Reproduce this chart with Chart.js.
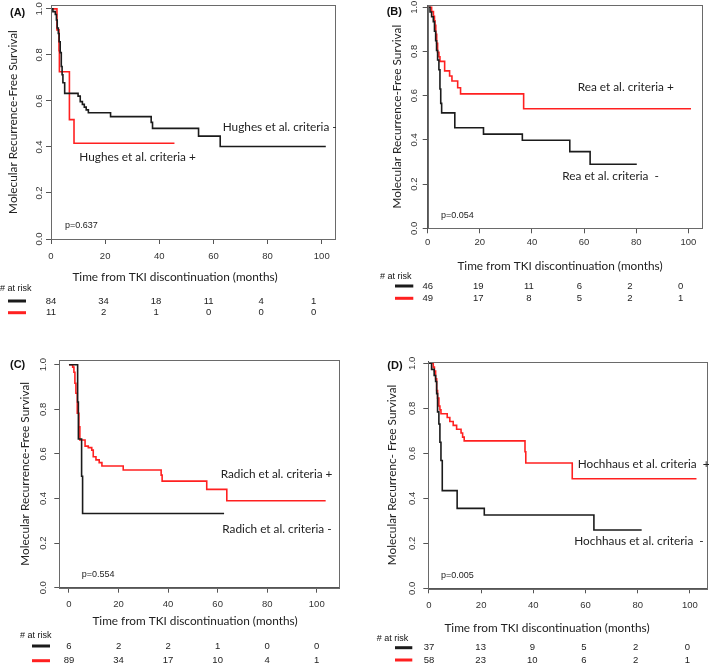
<!DOCTYPE html>
<html>
<head>
<meta charset="utf-8">
<script src="https://cdn.jsdelivr.net/npm/chart.js@4.4.1/dist/chart.umd.min.js"></script>
<style>
  html, body { margin: 0; padding: 0; background: #fff; }
  #wrap { position: relative; width: 709px; height: 664px; overflow: hidden; }
  canvas { position: absolute; }
</style>
</head>
<body>
<div id="wrap">
  <canvas id="cA" width="354" height="330" style="left:0;top:0"></canvas>
  <canvas id="cB" width="354" height="330" style="left:355px;top:0"></canvas>
  <canvas id="cC" width="354" height="334" style="left:0;top:330px"></canvas>
  <canvas id="cD" width="354" height="334" style="left:355px;top:330px"></canvas>
</div>
<script>
// tick labels
const monthTicks = [0, 20, 40, 60, 80, 100];
const survTicks = [0, 0.2, 0.4, 0.6, 0.8, 1.0];

// (A) Hughes et al. criteria
const hughesNegT = [0, 0.7, 1.6, 2.0, 2.3, 2.7, 3.0, 3.4, 3.8, 4.1, 4.4, 5.05, 10.0, 10.8, 11.6, 12.3, 13.0, 13.8, 22.0, 37.0, 37.5, 54.5, 62.5, 101.5];
const hughesNegS = [1, 0.988, 0.976, 0.952, 0.917, 0.893, 0.857, 0.810, 0.750, 0.714, 0.679, 0.633, 0.621, 0.597, 0.585, 0.573, 0.561, 0.549, 0.532, 0.507, 0.481, 0.447, 0.402, 0.402];
const hughesPosT = [0, 2.2, 2.95, 3.1, 6.8, 8.5, 45.6];
const hughesPosS = [1, 0.909, 0.818, 0.727, 0.519, 0.416, 0.416];
const hughesRiskNeg = [84, 34, 18, 11, 4, 1];
const hughesRiskPos = [11, 2, 1, 0, 0, 0];

// (B) Rea et al. criteria
const reaNegT = [0, 0.9, 1.5, 2.15, 2.6, 3.05, 3.4, 3.8, 4.3, 4.7, 5.0, 5.35, 10.4, 21.4, 36.3, 54.5, 62.3, 80.2];
const reaNegS = [1, 0.978, 0.957, 0.935, 0.891, 0.848, 0.804, 0.761, 0.717, 0.630, 0.565, 0.522, 0.455, 0.426, 0.398, 0.347, 0.290, 0.290];
const reaPosT = [0, 1.5, 2.2, 2.6, 2.8, 3.1, 3.45, 3.8, 4.3, 4.7, 6.5, 8.4, 9.3, 11.5, 12.6, 36.8, 101];
const reaPosS = [1, 0.980, 0.959, 0.939, 0.918, 0.878, 0.837, 0.796, 0.776, 0.755, 0.712, 0.689, 0.666, 0.636, 0.608, 0.541, 0.541];
const reaRiskNeg = [46, 19, 11, 6, 2, 0];
const reaRiskPos = [49, 17, 8, 5, 2, 1];

// (C) Radich et al. criteria
const radichNegT = [0, 3.5, 3.8, 5.1, 5.5, 62.6];
const radichNegS = [1, 0.833, 0.667, 0.5, 0.333, 0.333];
const radichPosT = [0, 1.5, 2.0, 2.4, 2.8, 3.35, 4.0, 4.4, 6.5, 7.8, 9.2, 9.8, 10.9, 12.2, 13.3, 21.9, 37.2, 37.6, 55.6, 63.7, 103.6];
const radichPosS = [1, 0.989, 0.966, 0.917, 0.872, 0.782, 0.722, 0.662, 0.635, 0.628, 0.617, 0.587, 0.573, 0.561, 0.546, 0.528, 0.505, 0.478, 0.441, 0.390, 0.390];
const radichRiskNeg = [6, 2, 2, 1, 0, 0];
const radichRiskPos = [89, 34, 17, 10, 4, 1];

// (D) Hochhaus et al. criteria
const hochNegT = [0, 1.0, 2.0, 2.55, 2.95, 3.3, 3.8, 4.2, 4.6, 5.1, 10.8, 21.2, 63.2, 81.5];
const hochNegS = [1, 0.973, 0.946, 0.919, 0.865, 0.784, 0.730, 0.649, 0.568, 0.434, 0.355, 0.326, 0.259, 0.259];
const hochPosT = [0, 1.65, 2.1, 2.55, 2.95, 3.3, 3.8, 4.2, 4.6, 7.0, 8.0, 9.3, 10.6, 12.3, 12.9, 13.5, 36.8, 37.1, 54.9, 102.5];
const hochPosS = [1, 0.983, 0.966, 0.931, 0.879, 0.845, 0.810, 0.793, 0.776, 0.759, 0.741, 0.724, 0.707, 0.690, 0.672, 0.655, 0.607, 0.557, 0.487, 0.487];
const hochRiskNeg = [37, 13, 9, 5, 2, 0];
const hochRiskPos = [58, 23, 10, 6, 2, 1];

const BLACK = '#1b1b1b';
const RED = '#ff2020';
const SANS = '"Liberation Sans", Arial, sans-serif';
const HUMAN = 'Lato, "Open Sans", sans-serif';

Chart.defaults.font.family = SANS;

function km(t, s) {
  return t.map((x, i) => ({ x: x, y: s[i] }));
}

// draws frame, labels, notes and the number-at-risk table
function overlay(p) {
  return {
    id: 'overlay',
    afterDraw(chart) {
      const ctx = chart.ctx;
      const a = chart.chartArea;
      const xs = chart.scales.x;
      ctx.save();
      ctx.strokeStyle = '#6a6a6a';
      ctx.lineWidth = 1;
      ctx.strokeRect(Math.round(a.left) + 0.5, Math.round(a.top) + 0.5,
        Math.round(a.right - a.left), Math.round(a.bottom - a.top));

      ctx.textBaseline = 'middle';
      ctx.fillStyle = '#111';
      ctx.textAlign = 'left';
      ctx.font = 'bold 11px ' + SANS;
      ctx.fillText(p.label, p.labelPos[0], p.labelPos[1]);

      ctx.font = '11.8px ' + HUMAN;
      ctx.fillStyle = '#222';
      ctx.textAlign = 'center';
      ctx.fillText('Time from TKI discontinuation (months)', p.xTitle[0], p.xTitle[1]);

      ctx.textAlign = 'left';
      p.notes.forEach(n => ctx.fillText(n[0], n[1], n[2]));

      ctx.font = '9px ' + SANS;
      ctx.fillText(p.pval, p.pPos[0], p.pPos[1]);

      // risk table
      const r = p.risk;
      ctx.font = '9px ' + SANS;
      ctx.fillStyle = '#111';
      ctx.fillText('# at risk', r.label[0], r.label[1]);
      [[BLACK, r.rows[0], p.riskNeg], [RED, r.rows[1], p.riskPos]].forEach(([col, y, vals]) => {
        ctx.strokeStyle = col;
        ctx.lineWidth = 3;
        ctx.beginPath();
        ctx.moveTo(r.line[0], y);
        ctx.lineTo(r.line[1], y);
        ctx.stroke();
        ctx.fillStyle = '#222';
        ctx.textAlign = 'center';
        ctx.font = '9.5px ' + SANS;
        const p0 = xs.getPixelForValue(0);
        vals.forEach((v, i) => {
          const px = p0 + (xs.getPixelForValue(monthTicks[i]) - p0) * r.spread;
          ctx.fillText(String(v), px, y);
        });
      });
      ctx.restore();
    }
  };
}

function makePanel(id, p) {
  const canvas = document.getElementById(id);
  const W = canvas.width, H = canvas.height;
  const xH = 22;
  const a = p.area;
  new Chart(canvas, {
    type: 'scatter',
    data: {
      datasets: [
        { data: km(p.negT, p.negS), borderColor: BLACK, borderWidth: 1.6, showLine: true, stepped: true, pointRadius: 0 },
        { data: km(p.posT, p.posS), borderColor: RED, borderWidth: 1.6, showLine: true, stepped: true, pointRadius: 0 }
      ]
    },
    options: {
      responsive: false,
      animation: false,
      devicePixelRatio: 1,
      layout: { padding: { left: 0, top: a.top, right: W - a.right, bottom: H - a.bottom - xH } },
      plugins: { legend: { display: false }, tooltip: { enabled: false } },
      scales: {
        x: {
          type: 'linear',
          min: p.xRange[0],
          max: p.xRange[1],
          afterBuildTicks: s => { s.ticks = monthTicks.map(v => ({ value: v })); },
          afterFit: s => { s.height = xH; s.paddingLeft = 0; s.paddingRight = 0; },
          border: { display: true, color: '#555', width: 1 },
          grid: { display: true, drawOnChartArea: false, drawTicks: true, tickLength: 5, color: '#555' },
          ticks: { autoSkip: false, maxRotation: 0, padding: p.xTickPad, color: '#333', font: { size: 9.5 }, callback: v => String(v) }
        },
        y: {
          type: 'linear',
          min: 0,
          max: p.yMax,
          afterBuildTicks: s => { s.ticks = survTicks.map(v => ({ value: v })); },
          afterFit: s => { s.width = a.left; s.paddingTop = 0; s.paddingBottom = 0; },
          border: { display: true, color: '#555', width: 1 },
          grid: { display: true, drawOnChartArea: false, drawTicks: true, tickLength: 5, color: '#555' },
          ticks: { autoSkip: false, minRotation: 90, maxRotation: 90, crossAlign: 'center', padding: p.yTickPad, color: '#333', font: { size: 9.5 }, callback: v => v.toFixed(1) },
          title: { display: true, text: p.yTitle, color: '#222', font: { family: HUMAN, size: 11.8, lineHeight: 1 }, padding: { top: p.yTitleX - 5.9, bottom: 0 } }
        }
      }
    },
    plugins: [overlay(p)]
  });
}

makePanel('cA', {
  negT: hughesNegT, negS: hughesNegS, posT: hughesPosT, posS: hughesPosS,
  riskNeg: hughesRiskNeg, riskPos: hughesRiskPos,
  area: { left: 51, right: 335, top: 5, bottom: 239 },
  xRange: [0, 104.9], yMax: 1.017, xTickPad: 6.7, yTickPad: 0.2, yTitleX: 13,
  yTitle: 'Molecular Recurrence-Free Survival',
  xTitle: [175, 276.7], label: '(A)', labelPos: [10, 12.7],
  pval: 'p=0.637', pPos: [65, 226],
  notes: [['Hughes et al. criteria -', 222.7, 127.3], ['Hughes et al. criteria +', 79.3, 157.3]],
  risk: { label: [0, 289], line: [8, 26], rows: [301, 312.7], spread: 0.97 }
});

makePanel('cB', {
  negT: reaNegT, negS: reaNegS, posT: reaPosT, posS: reaPosS,
  riskNeg: reaRiskNeg, riskPos: reaRiskPos,
  area: { left: 72.7, right: 346.7, top: 5, bottom: 228.3 },
  xRange: [0, 105.1], yMax: 1.010, xTickPad: 3.4, yTickPad: 1.6, yTitleX: 41.7,
  yTitle: 'Molecular Recurrence-Free Survival',
  xTitle: [205, 265.7], label: '(B)', labelPos: [31.7, 11.7],
  pval: 'p=0.054', pPos: [86, 216],
  notes: [['Rea et al. criteria +', 222.7, 87.3], ['Rea et al. criteria  -', 207.3, 175.7]],
  risk: { label: [25, 277], line: [40, 58.3], rows: [286, 298.3], spread: 0.97 }
});

makePanel('cC', {
  negT: radichNegT, negS: radichNegS, posT: radichPosT, posS: radichPosS,
  riskNeg: radichRiskNeg, riskPos: radichRiskPos,
  area: { left: 59.3, right: 339.3, top: 30, bottom: 257.7 },
  xRange: [-3.9, 109.1], yMax: 1.021, xTickPad: 6.3, yTickPad: 4.2, yTitleX: 25,
  yTitle: 'Molecular Recurrence-Free Survival',
  xTitle: [195, 291], label: '(C)', labelPos: [10, 35],
  pval: 'p=0.554', pPos: [81.7, 245],
  notes: [['Radich et al. criteria +', 220.7, 144], ['Radich et al. criteria -', 222.3, 199.3]],
  risk: { label: [20, 305.7], line: [32, 50], rows: [316, 330.7], spread: 1 }
});

makePanel('cD', {
  negT: hochNegT, negS: hochNegS, posT: hochPosT, posS: hochPosS,
  riskNeg: hochRiskNeg, riskPos: hochRiskPos,
  area: { left: 73.3, right: 352.7, top: 31.7, bottom: 258.3 },
  xRange: [-0.25, 106.8], yMax: 1.007, xTickPad: 6.7, yTickPad: 4.2, yTitleX: 36.7,
  yTitle: 'Molecular Recurrenc- Free Survival',
  xTitle: [192, 298.3], label: '(D)', labelPos: [32.3, 36],
  pval: 'p=0.005', pPos: [86, 245.7],
  notes: [['Hochhaus et al. criteria  +', 222.7, 133.7], ['Hochhaus et al. criteria  -', 219.3, 210.7]],
  risk: { label: [21.7, 308.3], line: [40, 57.3], rows: [317.7, 330], spread: 0.99 }
});
</script>
</body>
</html>
